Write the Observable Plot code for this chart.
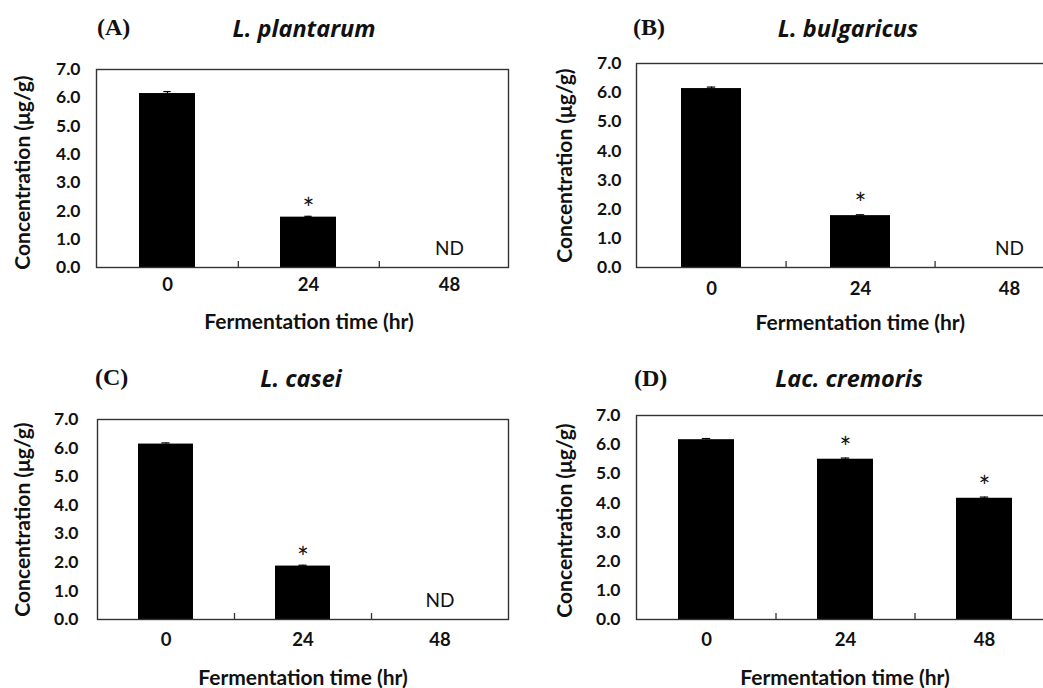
<!DOCTYPE html>
<html><head><meta charset="utf-8">
<script src="https://cdn.jsdelivr.net/npm/d3@7"></script>
<script src="https://cdn.jsdelivr.net/npm/@observablehq/plot@0.6"></script>
<style>
html,body{margin:0;padding:0;background:#fff;}
#root{position:relative;width:1043px;height:688px;overflow:hidden;background:#fff;}
.panel{position:absolute;}
.panel svg{overflow:visible;max-width:none !important;display:block;}
.letter{position:absolute;font-family:"Liberation Serif","Times New Roman",serif;font-weight:bold;font-size:24px;transform:translateY(-50%);color:#111;white-space:nowrap;}
.species{position:absolute;font-family:"Open Sans",Lato,sans-serif;font-weight:bold;font-style:italic;font-size:23.5px;transform:translate(-50%,-50%);white-space:nowrap;color:#111;}
</style></head><body><div id="root"></div>
<script>
// ---- data ----
const times = ["0", "24", "48"];
const panelLetters = ["(A)", "(B)", "(C)", "(D)"];
const species = ["L. plantarum", "L. bulgaricus", "L. casei", "Lac. cremoris"];
const concA = [6.15, 1.78, null];
const concB = [6.14, 1.78, null];
const concC = [6.14, 1.87, null];
const concD = [6.17, 5.50, 4.16];
const errA = [0.07, 0.03, null];
const errB = [0.05, 0.03, null];
const errC = [0.04, 0.03, null];
const errD = [0.04, 0.04, 0.04];
const starA = [false, true, false];
const starB = [false, true, false];
const starC = [false, true, false];
const starD = [false, true, true];
const ndA = [false, false, true];
const ndB = [false, false, true];
const ndC = [false, false, true];
const ndD = [false, false, false];
const yTicks = [0, 1, 2, 3, 4, 5, 6, 7];
const xLabel = "Fermentation time (hr)";
const yLabel = "Concentration (μg/g)";

const conc = [concA, concB, concC, concD];
const errs = [errA, errB, errC, errD];
const stars = [starA, starB, starC, starD];
const nds = [ndA, ndB, ndC, ndD];

// ---- layout (pixels) ----
const layout = [
  {left: 0,   top: 45,  width: 530, height: 300, ml: 96,  mr: 9,    mt: 24, mb: 78, frameInsetRight: 13,
   ytp: 16, xtp: 10, ylx: -73, yly: 4, xly: 55, starDy: -6, letterX: 97,  letterY: 27,  specX: 304, specY: 28},
  {left: 520, top: 45,  width: 580, height: 300, ml: 116, mr: 16.5, mt: 18, mb: 78, frameInsetRight: 0,
   ytp: 15, xtp: 14, ylx: -71, yly: 0, xly: 56, starDy: -10, letterX: 633, letterY: 27,  specX: 848, specY: 28},
  {left: 0,   top: 395, width: 520, height: 293, ml: 97,  mr: 12,   mt: 24, mb: 69, frameInsetRight: 0,
   ytp: 19, xtp: 13.5, ylx: -74, yly: 0, xly: 59, starDy: -6, letterX: 95,  letterY: 377, specX: 301, specY: 378},
  {left: 520, top: 395, width: 545, height: 293, ml: 116, mr: 12,   mt: 20, mb: 69, frameInsetRight: 0,
   ytp: 16, xtp: 13.5, ylx: -71, yly: 3, xly: 59, starDy: -9, letterX: 634, letterY: 378, specX: 849, specY: 378}
];

const root = document.getElementById("root");
const font = "Lato, 'Open Sans', sans-serif";

layout.forEach((L, i) => {
  const rows = times.map((t, j) => ({t, v: conc[i][j], e: errs[i][j], star: stars[i][j], nd: nds[i][j]}));
  const bars = rows.filter(r => r.v != null);
  const plotW = L.width - L.ml - L.mr;
  const plotH = L.height - L.mt - L.mb;
  const step = plotW / times.length;
  const bw = step * 0.4;
  const capW = 8;

  const chart = Plot.plot({
    width: L.width, height: L.height,
    marginLeft: L.ml, marginRight: L.mr, marginTop: L.mt, marginBottom: L.mb,
    style: {fontFamily: font, fontSize: "18px", fontWeight: "bold", color: "#111", background: "transparent", maxWidth: "none"},
    x: {domain: times, paddingInner: 0.6, paddingOuter: 0.3, align: 0.5},
    y: {domain: [0, 7]},
    marks: [
      Plot.barY(bars, {x: "t", y: "v", fill: "#000"}),
      Plot.ruleX(bars, {x: "t", y1: "v", y2: d => d.v + d.e, stroke: "#000", strokeWidth: 1.2}),
      Plot.tickY(bars, {x: "t", y: d => d.v + d.e, stroke: "#000", strokeWidth: 1.2,
                        insetLeft: (bw - capW) / 2, insetRight: (bw - capW) / 2}),
      Plot.text(rows.filter(r => r.star), {x: "t", y: d => d.v + d.e, text: () => "*",
                        dy: L.starDy, fontSize: 28, fontWeight: "normal", fill: "#111"}),
      Plot.text(rows.filter(r => r.nd), {x: "t", y: () => 0, text: () => "ND",
                        dy: -19, fontSize: 19, fontWeight: "normal", fill: "#111"}),
      Plot.tickX(times.slice(0, -1), {x: d => d, dx: step / 2, insetTop: plotH - 6,
                        stroke: "#333", strokeWidth: 1.3}),
      Plot.axisY({ticks: yTicks, tickFormat: d3.format(".1f"), tickSize: 0, tickPadding: L.ytp,
                  fontSize: 17.5, label: null}),
      Plot.axisX({tickSize: 0, tickPadding: L.xtp, fontSize: 18.5, label: null}),
      Plot.text([yLabel], {text: d => d, frameAnchor: "left", rotate: -90, dx: L.ylx, dy: L.yly,
                           textAnchor: "middle", lineAnchor: "middle",
                           fontSize: 21, fontWeight: "bold", fill: "#111"}),
      Plot.text([xLabel], {text: d => d, frameAnchor: "bottom", dy: L.xly,
                           textAnchor: "middle", lineAnchor: "middle",
                           fontSize: 21, fontWeight: "bold", fill: "#111"}),
      Plot.frame({stroke: "#333", strokeWidth: 1.4, insetRight: L.frameInsetRight})
    ]
  });

  const div = document.createElement("div");
  div.className = "panel";
  div.style.left = L.left + "px";
  div.style.top = L.top + "px";
  div.style.width = L.width + "px";
  div.style.height = L.height + "px";
  div.appendChild(chart);
  root.appendChild(div);

  const letter = document.createElement("div");
  letter.className = "letter";
  letter.textContent = panelLetters[i];
  letter.style.left = L.letterX + "px";
  letter.style.top = L.letterY + "px";
  root.appendChild(letter);

  const sp = document.createElement("div");
  sp.className = "species";
  sp.textContent = species[i];
  sp.style.left = L.specX + "px";
  sp.style.top = L.specY + "px";
  root.appendChild(sp);
});
</script>
</body></html>
